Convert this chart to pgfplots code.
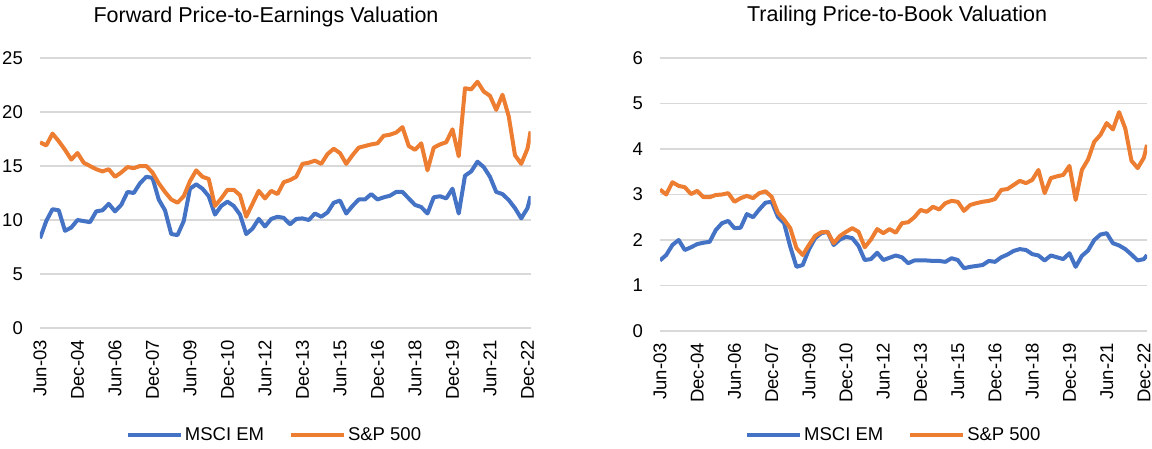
\documentclass[border=0pt]{standalone}
\usepackage{fontspec}
\setmainfont{Liberation Sans}
\usepackage{pgfplots}
\usepackage{pgfplotstable}
\pgfplotsset{compat=1.18}
\definecolor{emblue}{HTML}{4472C4}
\definecolor{spor}{HTML}{ED7D31}
\definecolor{gridg}{HTML}{D9D9D9}

\pgfplotstableread{
x sp em
0 17.2 8.3
1 16.9 9.9
2 18.0 11.0
3 17.3 10.9
4 16.5 9.0
5 15.6 9.3
6 16.2 10.0
7 15.3 9.9
8 15.0 9.8
9 14.7 10.8
10 14.5 10.9
11 14.7 11.5
12 14.0 10.8
13 14.4 11.4
14 14.9 12.6
15 14.8 12.5
16 15.0 13.4
17 15.0 14.0
18 14.4 13.9
19 13.4 11.9
20 12.6 10.9
21 11.9 8.7
22 11.6 8.6
23 12.2 9.9
24 13.6 12.9
25 14.6 13.3
26 14.0 12.9
27 13.8 12.2
28 11.3 10.5
29 12.0 11.3
30 12.8 11.7
31 12.8 11.3
32 12.3 10.5
33 10.3 8.7
34 11.5 9.2
35 12.7 10.1
36 12.0 9.4
37 12.7 10.1
38 12.4 10.3
39 13.5 10.2
40 13.7 9.6
41 14.0 10.1
42 15.2 10.15
43 15.3 10.0
44 15.5 10.6
45 15.2 10.3
46 16.1 10.7
47 16.6 11.6
48 16.2 11.8
49 15.2 10.6
50 16.0 11.3
51 16.7 11.9
52 16.85 11.9
53 17.0 12.4
54 17.1 11.9
55 17.8 12.1
56 17.9 12.25
57 18.1 12.6
58 18.6 12.6
59 16.85 12.0
60 16.5 11.4
61 17.1 11.2
62 14.6 10.6
63 16.7 12.1
64 17.0 12.2
65 17.2 12.0
66 18.4 12.9
67 15.9 10.6
68 22.2 14.1
69 22.1 14.5
70 22.8 15.4
71 21.9 14.9
72 21.5 14.0
73 20.2 12.6
74 21.6 12.4
75 19.6 11.85
76 16.0 11.1
77 15.2 10.15
78 16.6 11.1
78.5 18.2 12.2
}\petable

\pgfplotstableread{
x sp em
0 3.11 1.55
1 3.00 1.67
2 3.27 1.89
3 3.19 2.00
4 3.16 1.78
5 3.01 1.84
6 3.08 1.91
7 2.94 1.94
8 2.94 1.96
9 2.99 2.22
10 3.00 2.37
11 3.03 2.42
12 2.84 2.26
13 2.92 2.27
14 2.97 2.57
15 2.92 2.50
16 3.03 2.67
17 3.07 2.82
18 2.95 2.84
19 2.60 2.51
20 2.45 2.37
21 2.26 1.85
22 1.82 1.41
23 1.67 1.45
24 1.89 1.79
25 2.09 2.04
26 2.17 2.15
27 2.18 2.18
28 1.93 1.89
29 2.09 2.01
30 2.18 2.07
31 2.26 2.04
32 2.18 1.87
33 1.84 1.56
34 2.01 1.58
35 2.24 1.72
36 2.15 1.56
37 2.24 1.61
38 2.16 1.66
39 2.37 1.62
40 2.39 1.49
41 2.50 1.55
42 2.66 1.55
43 2.62 1.55
44 2.73 1.54
45 2.67 1.54
46 2.81 1.52
47 2.86 1.60
48 2.84 1.56
49 2.64 1.38
50 2.77 1.41
51 2.81 1.43
52 2.84 1.45
53 2.86 1.54
54 2.90 1.52
55 3.10 1.62
56 3.12 1.68
57 3.21 1.76
58 3.30 1.80
59 3.25 1.78
60 3.32 1.69
61 3.54 1.66
62 3.03 1.55
63 3.36 1.66
64 3.40 1.62
65 3.43 1.58
66 3.63 1.71
67 2.88 1.41
68 3.54 1.65
69 3.77 1.77
70 4.16 2.00
71 4.31 2.12
72 4.57 2.15
73 4.43 1.93
74 4.81 1.88
75 4.45 1.80
76 3.74 1.68
77 3.58 1.55
78 3.81 1.58
78.5 4.09 1.67
}\pbtable

\pgfplotsset{
  common/.style={
    scale only axis,
    axis line style={draw=none},
    major tick length=0pt,
    ymajorgrids,
    grid style={gridg, line width=1.3pt},
    xmin=0, xmax=78.5, ymin=0,
    xtick={0,6,...,78},
    xticklabels={Jun-03,Dec-04,Jun-06,Dec-07,Jun-09,Dec-10,Jun-12,Dec-13,Jun-15,Dec-16,Jun-18,Dec-19,Jun-21,Dec-22},
    tick label style={font=\fontsize{18.5}{22}\selectfont, text=black},
    xticklabel style={rotate=90, anchor=east, inner sep=0pt},
    xticklabel shift=12pt,
    yticklabel style={anchor=east, inner sep=0pt},
    yticklabel shift=17pt,
    /pgf/number format/assume math mode=true,
    title style={font=\fontsize{21.5}{25}\selectfont, anchor=base, inner sep=0pt},
    legend columns=2,
    legend style={draw=none, fill=none, font=\fontsize{18.5}{22}\selectfont,
      nodes={inner sep=2pt},
      /tikz/every even column/.append style={column sep=23pt}},
    legend image code/.code={\draw[#1, line width=4pt] (0pt,0pt) -- (53pt,0pt);},
    every axis plot/.append style={line width=4pt, line join=round},
  }
}

\begin{document}
\begin{tikzpicture}[x=1pt,y=1pt]
\useasboundingbox (0,0) rectangle (1152,448);
\begin{axis}[common,
  at={(40pt,120pt)}, anchor=south west,
  width=490.6pt, height=270pt,
  ymax=25, ytick={0,5,...,25},
  title={Forward Price-to-Earnings Valuation},
  title style={at={(0.4607,1.111)}},
  legend style={at={(0.478,-0.396)}, anchor=center}]
\addplot[emblue] table[x=x,y=em]{\petable};
\addlegendentry{MSCI EM}
\addplot[spor] table[x=x,y=sp]{\petable};
\addlegendentry{S\&P 500}
\end{axis}
\begin{axis}[common,
  at={(660pt,117pt)}, anchor=south west,
  width=487pt, height=273pt,
  ymax=6, ytick={0,1,...,6},
  title={Trailing Price-to-Book Valuation},
  title style={at={(0.4867,1.110)}},
  legend style={at={(0.480,-0.381)}, anchor=center}]
\addplot[emblue] table[x=x,y=em]{\pbtable};
\addlegendentry{MSCI EM}
\addplot[spor] table[x=x,y=sp]{\pbtable};
\addlegendentry{S\&P 500}
\end{axis}
\end{tikzpicture}
\end{document}
